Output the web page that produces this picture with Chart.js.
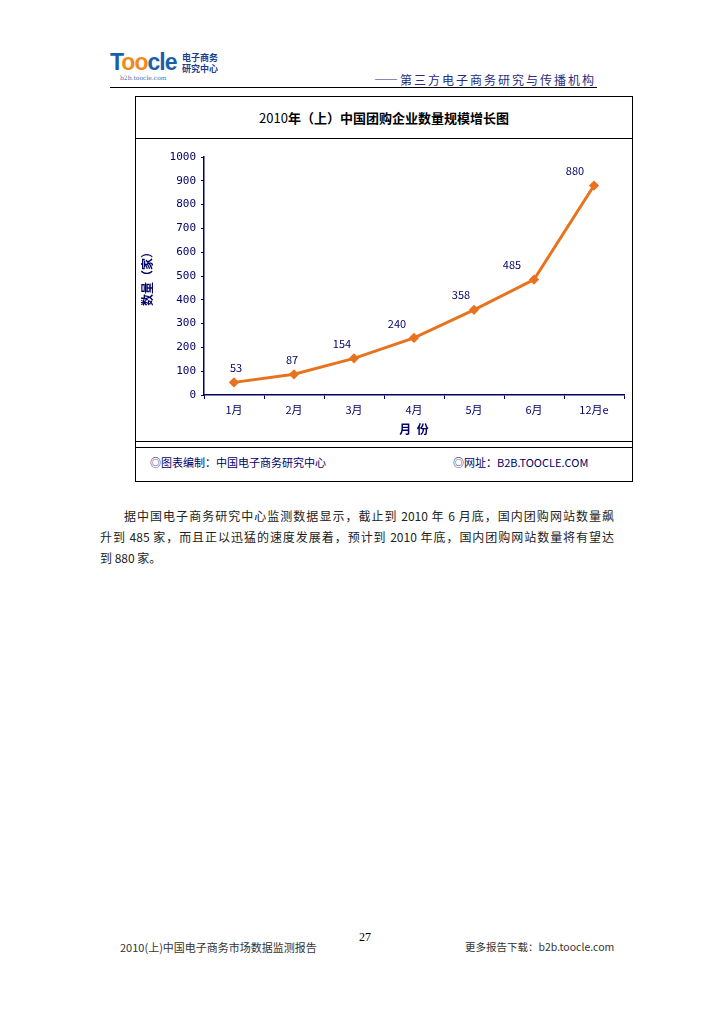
<!DOCTYPE html>
<html lang="zh">
<head>
    <meta charset="UTF-8">
    <title>2010年（上）中国团购企业数量规模增长图</title>
    <script src="https://cdn.jsdelivr.net/npm/chart.js"></script>
    <style>
        body {
            margin: 0;
            background: #fff;
            font-family: "Noto Sans CJK SC", sans-serif;
        }
        .page {
            position: relative;
            width: 728px;
            height: 1030px;
        }
        .abs { position: absolute; }
        .logo {
            left: 110px; top: 52px;
            font-family: "Liberation Sans", Arial, sans-serif;
            font-weight: bold; font-size: 23px; color: #1a5fa8;
            letter-spacing: -1px; line-height: 20px;
        }
        .logo .oo { color: #f08a1c; }
        .logo-cn {
            left: 182px; top: 52px; font-size: 9px; line-height: 11px;
            color: #1a3f8a; font-weight: bold;
        }
        .logo-url {
            left: 120px; top: 74px; font-size: 6px; line-height: 7px; color: #4a6fa8;
            font-family: "DejaVu Serif", serif;
        }
        .header-text {
            left: 374px; top: 71px; font-size: 12px; color: #2a2a80;
            letter-spacing: 2px;
        }
        .header-line {
            left: 110px; top: 87px; width: 487px; height: 0;
            border-top: 1.5px solid #000;
        }
        .box {
            left: 135px; top: 96px; width: 496px; height: 384px;
            border: 1.5px solid #000;
        }
        .title {
            left: 136px; top: 108px; width: 496px; text-align: center;
            font-size: 13px; font-weight: bold; color: #000;
        }
        .title .lite { font-weight: normal; }
        .rule1 { left: 136px; top: 138px; width: 496px; border-top: 1.5px solid #000; }
        .rule2 { left: 136px; top: 441px; width: 496px; border-top: 1px solid #000; }
        .rule3 { left: 136px; top: 447px; width: 496px; border-top: 1.5px solid #000; }
        .foot-l { left: 150px; top: 454px; font-size: 11px; color: #000066; }
        .foot-r { left: 453px; top: 454px; font-size: 11px; color: #000066; }
        #chartWrap {
            left: 136px; top: 139px; width: 495px; height: 302px;
        }
        .line {
            left: 100px; width: 514px;
            font-size: 12px; line-height: 16px; color: #222;
            text-align: justify; text-align-last: justify; white-space: nowrap;
        }
        .line.last { text-align-last: left; }
        .pno { left: 359px; top: 930px; font-size: 12px; font-family: "Liberation Serif", serif; }
        .foot-page-l { left: 120px; top: 939px; font-size: 11px; color: #333; }
        .foot-page-r { left: 465px; top: 939px; font-size: 10.5px; color: #333; }
    </style>
</head>
<body>
<div class="page">
    <div class="abs logo">T<span class="oo">oo</span>cle</div>
    <div class="abs logo-cn">电子商务<br>研究中心</div>
    <div class="abs logo-url">b2b.toocle.com</div>
    <div class="abs header-text">——第三方电子商务研究与传播机构</div>
    <div class="abs header-line"></div>

    <div class="abs box"></div>
    <div class="abs title"><span class="lite">2010</span>年（上）中国团购企业数量规模增长图</div>
    <div class="abs rule1"></div>
    <div class="abs" id="chartWrap"><canvas id="groupChart" width="495" height="302"></canvas></div>
    <div class="abs rule2"></div>
    <div class="abs rule3"></div>
    <div class="abs foot-l">◎图表编制：中国电子商务研究中心</div>
    <div class="abs foot-r">◎网址：B2B.TOOCLE.COM</div>

    <div class="abs line" style="top:508px; left:124px; width:490px;">据中国电子商务研究中心监测数据显示，截止到 2010 年 6 月底，国内团购网站数量飙</div>
    <div class="abs line" style="top:529px;">升到 485 家，而且正以迅猛的速度发展着，预计到 2010 年底，国内团购网站数量将有望达</div>
    <div class="abs line last" style="top:550px;">到 880 家。</div>

    <div class="abs pno">27</div>
    <div class="abs foot-page-l">2010(上)中国电子商务市场数据监测报告</div>
    <div class="abs foot-page-r">更多报告下载：b2b.toocle.com</div>
</div>

<script>
    // data
    const months = ['1月', '2月', '3月', '4月', '5月', '6月', '12月e'];
    const siteCounts = [53, 87, 154, 240, 358, 485, 880];
    const yTicks = [0, 100, 200, 300, 400, 500, 600, 700, 800, 900, 1000];

    const navy = '#000066';
    const orange = '#E8731E';

    // simple value labels above each point
    const valueLabels = {
        id: 'valueLabels',
        afterDatasetsDraw(chart, args, opts) {
            const ctx = chart.ctx;
            const meta = chart.getDatasetMeta(0);
            ctx.save();
            ctx.font = '11px "Noto Sans CJK SC", sans-serif';
            ctx.fillStyle = navy;
            ctx.textAlign = 'center';
            ctx.textBaseline = 'bottom';
            meta.data.forEach((pt, i) => {
                const dx = opts.shift[i] || 0;
                ctx.fillText(chart.data.datasets[0].data[i], pt.x + dx, pt.y - 9);
            });
            ctx.restore();
        }
    };

    new Chart(document.getElementById('groupChart'), {
        type: 'line',
        data: {
            labels: months,
            datasets: [{
                data: siteCounts,
                borderColor: orange,
                backgroundColor: orange,
                borderWidth: 3,
                pointStyle: 'rectRot',
                pointRadius: 3,
                tension: 0,
                fill: false
            }]
        },
        options: {
            responsive: false,
            animation: false,
            layout: { padding: { top: 18, right: 2, left: 0, bottom: 0 } },
            plugins: {
                legend: { display: false },
                tooltip: { enabled: false },
                valueLabels: { shift: [2, -2, -12, -17, -13, -22, -19] }
            },
            scales: {
                x: {
                    offset: true,
                    grid: {
                        offset: true,
                        drawOnChartArea: false,
                        drawTicks: true,
                        tickLength: 4,
                        color: navy
                    },
                    border: { color: navy, width: 1.5 },
                    ticks: {
                        color: navy,
                        padding: 4,
                        font: { size: 11, family: '"Noto Sans CJK SC", sans-serif' }
                    },
                    title: {
                        display: true,
                        text: '月  份',
                        color: navy,
                        padding: { top: 0 },
                        font: { size: 12, weight: 'bold', family: '"Noto Sans CJK SC", sans-serif' }
                    },
                    afterFit(scale) { scale.height = 46; }
                },
                y: {
                    min: 0,
                    max: 1000,
                    afterBuildTicks(scale) {
                        scale.ticks = yTicks.map(v => ({ value: v }));
                    },
                    grid: {
                        drawOnChartArea: false,
                        drawTicks: true,
                        tickLength: 3,
                        color: navy
                    },
                    border: { color: navy, width: 1.5 },
                    ticks: {
                        color: navy,
                        padding: 5,
                        callback: v => String(v),
                        font: { size: 11, family: '"DejaVu Sans Mono", monospace' }
                    },
                    title: {
                        display: true,
                        text: '数量（家）',
                        color: navy,
                        padding: { bottom: 8 },
                        font: { size: 12, weight: 'bold', family: '"Noto Sans CJK SC", sans-serif' }
                    },
                    afterFit(scale) { scale.width = 68; }
                }
            }
        },
        plugins: [valueLabels]
    });
</script>
</body>
</html>
